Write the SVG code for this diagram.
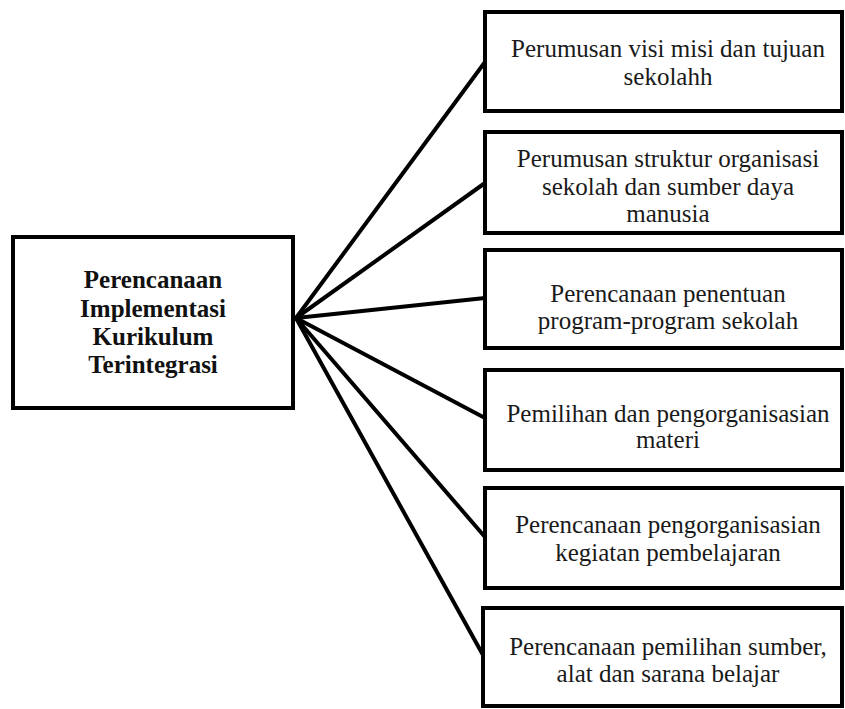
<svg xmlns="http://www.w3.org/2000/svg" width="845" height="709" viewBox="0 0 845 709">
<style>
.box{fill:#fff;stroke:#000;stroke-width:4}
.t{font-family:"Liberation Serif","Times New Roman",serif;font-size:25px;fill:#1a1a1a;text-anchor:middle}
.b{font-weight:bold;fill:#111}
.c{stroke:#000;stroke-width:4;fill:none;stroke-linecap:round}
</style>
<rect width="845" height="709" fill="#fff"/>
<g id="connectors">
<line class="c" x1="296" y1="318" x2="485" y2="62"/>
<line class="c" x1="296" y1="318" x2="485" y2="183"/>
<line class="c" x1="296" y1="318" x2="485" y2="298"/>
<line class="c" x1="296" y1="318" x2="485" y2="418"/>
<line class="c" x1="296" y1="318" x2="485" y2="537"/>
<line class="c" x1="296" y1="318" x2="483" y2="655"/>
</g>
<g id="main">
<rect class="box" x="13" y="237" width="280" height="171"/>
<text class="t b" x="153" y="288">Perencanaan</text>
<text class="t b" x="153" y="317">Implementasi</text>
<text class="t b" x="153" y="345">Kurikulum</text>
<text class="t b" x="153" y="373">Terintegrasi</text>
</g>
<g id="n1">
<rect class="box" x="485" y="12" width="357" height="99"/>
<text class="t" x="668" y="57">Perumusan visi misi dan tujuan</text>
<text class="t" x="668" y="85">sekolahh</text>
</g>
<g id="n2">
<rect class="box" x="485" y="132" width="357" height="101"/>
<text class="t" x="668" y="167">Perumusan struktur organisasi</text>
<text class="t" x="668" y="195">sekolah dan sumber daya</text>
<text class="t" x="668" y="222">manusia</text>
</g>
<g id="n3">
<rect class="box" x="485" y="250" width="357" height="98"/>
<text class="t" x="668" y="302">Perencanaan penentuan</text>
<text class="t" x="668" y="329">program-program sekolah</text>
</g>
<g id="n4">
<rect class="box" x="485" y="370" width="357" height="100"/>
<text class="t" x="668" y="422">Pemilihan dan pengorganisasian</text>
<text class="t" x="668" y="448">materi</text>
</g>
<g id="n5">
<rect class="box" x="485" y="488" width="357" height="100"/>
<text class="t" x="668" y="533">Perencanaan pengorganisasian</text>
<text class="t" x="668" y="561">kegiatan pembelajaran</text>
</g>
<g id="n6">
<rect class="box" x="483" y="608" width="359" height="98"/>
<text class="t" x="668" y="655">Perencanaan pemilihan sumber,</text>
<text class="t" x="668" y="682">alat dan sarana belajar</text>
</g>
</svg>
